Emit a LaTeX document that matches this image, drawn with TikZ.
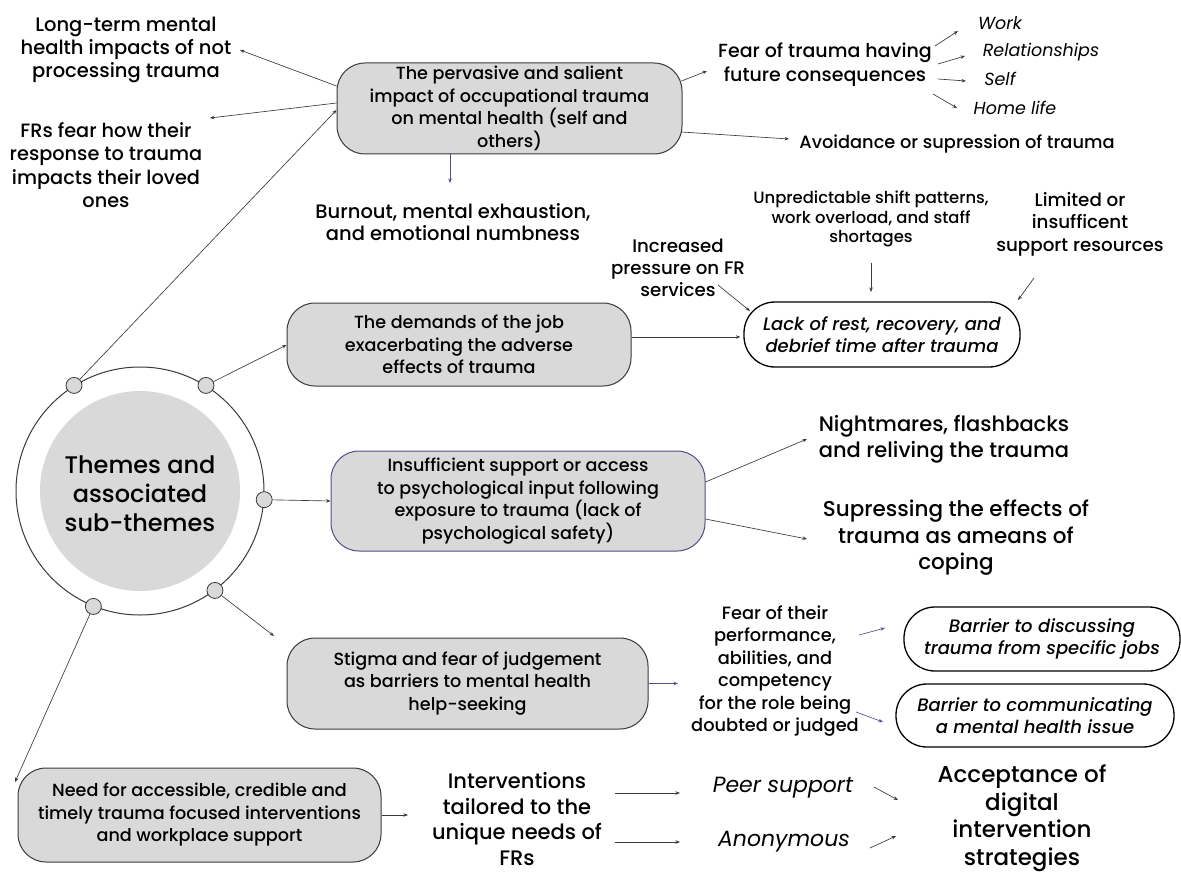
\documentclass[tikz,border=0pt]{standalone}
\usepackage{fontspec}
\setmainfont{Poppins}[BoldFont={* Medium}, ItalicFont={* Italic}, BoldItalicFont={* Medium Italic}]
\usetikzlibrary{arrows.meta}
\definecolor{boxgray}{HTML}{D9D9D9}
\definecolor{edge}{HTML}{3A3A3A}
\definecolor{purp}{HTML}{5B4A8A}
\newcommand{\fs}[2]{\fontsize{#1}{#2}\selectfont}
\begin{document}
\begin{tikzpicture}[x=1pt,y=-1pt,
  themebox/.style={draw=edge, fill=boxgray, rounded corners=28pt, line width=1pt, align=center, inner sep=0pt, font=\bfseries\fs{17.6}{22.5}},
  pill/.style={draw=black, line width=1.3pt, rounded corners=31pt, align=center, inner sep=0pt, font=\bfseries\itshape\fs{18}{22}},
  txt/.style={align=center, inner sep=0pt},
  arr/.style={-{Stealth[length=4.5pt,width=3.5pt]}, line width=0.65pt, draw=edge},
  arrp/.style={arr, draw=purp},
  dot/.style={circle, draw=edge, fill=boxgray, minimum size=16pt, inner sep=0pt, line width=0.8pt}
]
\path[use as bounding box, fill=white] (0,0) rectangle (1181,872);

% central circle
\node[circle, draw=edge, line width=1pt, minimum size=248pt, inner sep=0pt] (ring) at (140,491) {};
\node[circle, fill=boxgray, minimum size=200pt, inner sep=0pt] (core) at (140,491) {};
\node[txt, font=\bfseries\fs{24}{29}] (themes) at (140,494) {Themes and\\associated\\sub-themes};
\node[dot] (ctl) at (ring.122) {};
\node[dot] (ctr) at (ring.58) {};
\node[dot] (cr) at (ring.-4) {};
\node[dot] (cbr) at (ring.-53) {};
\node[dot] (cbl) at (ring.-112) {};

% theme boxes
\node[themebox, minimum width=345pt, minimum height=91pt] (b1) at (509.5,108.5) {The pervasive and salient\\impact of occupational trauma\\on mental health (self and\\others)};
\node[themebox, minimum width=344pt, minimum height=83pt] (b2) at (459,344.5) {The demands of the job\\exacerbating the adverse\\effects of trauma};
\node[themebox, draw=purp, minimum width=374pt, minimum height=100pt] (b3) at (518,501) {Insufficient support or access\\to psychological input following\\exposure to trauma (lack of\\psychological safety)};
\node[themebox, minimum width=361pt, minimum height=91pt] (b4) at (467.5,683.5) {Stigma and fear of judgement\\as barriers to mental health\\help-seeking};
\node[themebox, minimum width=363pt, minimum height=94pt] (b5) at (199.5,815) {Need for accessible, credible and\\timely trauma focused interventions\\and workplace support};

% pills
\node[pill, minimum width=276pt, minimum height=65pt] (lack) at (882,334.5) {Lack of rest, recovery, and\\debrief time after trauma};
\node[pill, minimum width=276pt, minimum height=64pt] (bar1) at (1042,639) {Barrier to discussing\\trauma from specific jobs};
\node[pill, minimum width=278pt, minimum height=63pt] (bar2) at (1035,715.5) {Barrier to communicating\\a mental health issue};

% text nodes
\node[txt, font=\bfseries\fs{19.5}{23}] (longterm) at (126,50) {Long-term mental\\health impacts of not\\processing trauma};
\node[txt, font=\bfseries\fs{19.3}{23.3}] (frsfear) at (106,165) {FRs fear how their\\response to trauma\\impacts their loved\\ones};
\node[txt, font=\bfseries\fs{19.5}{22.5}] (burnout) at (453,222) {Burnout, mental exhaustion,\\and emotional numbness};
\node[txt, font=\bfseries\fs{19}{24}] (fearfut) at (825,65) {Fear of trauma having\\future consequences};
\node[txt, font=\itshape\fs{17.5}{20}] (work) at (1000,23) {Work};
\node[txt, font=\itshape\fs{17.5}{20}] (rel) at (1041,52) {Relationships};
\node[txt, font=\itshape\fs{17.5}{20}] (self) at (1000,79) {Self};
\node[txt, font=\itshape\fs{17.5}{20}] (home) at (1015,108) {Home life};
\node[txt, font=\bfseries\fs{17.8}{22}] (avoid) at (957,144) {Avoidance or supression of trauma};
\node[txt, font=\bfseries\fs{16.4}{19.5}] (unpred) at (871,219) {Unpredictable shift patterns,\\work overload, and staff\\shortages};
\node[txt, font=\bfseries\fs{18.3}{22.5}] (limited) at (1080,224) {Limited or\\insufficent\\support resources};
\node[txt, font=\bfseries\fs{18.2}{22}] (increased) at (678,268) {Increased\\pressure on FR\\services};
\node[txt, font=\bfseries\fs{21}{26}] (night) at (944,439) {Nightmares, flashbacks\\and reliving the trauma};
\node[txt, font=\bfseries\fs{21.5}{26.5}] (supp) at (956,538) {Supressing the effects of\\trauma as ameans of\\coping};
\node[txt, font=\bfseries\fs{17.8}{22.4}] (fearperf) at (775,671) {Fear of their\\performance,\\abilities, and\\competency\\for the role being\\doubted or judged};
\node[txt, font=\bfseries\fs{21}{25.5}] (interv) at (517,819) {Interventions\\tailored to the\\unique needs of\\FRs};
\node[txt, font=\itshape\fs{22}{24}] (peer) at (783,788) {Peer support};
\node[txt, font=\itshape\fs{22}{24}] (anon) at (784,842) {Anonymous};
\node[txt, font=\bfseries\fs{23}{27.5}] (accept) at (1022,818) {Acceptance of\\digital\\intervention\\strategies};

% free ends
\coordinate (eLong) at (240,50);
\coordinate (eFrs) at (210,118);
\coordinate (eBurn) at (450,183);
\coordinate (eFut) at (707,71);
\coordinate (sWork) at (935,46);   \coordinate (eWork) at (958,31);
\coordinate (sRel) at (938,64);    \coordinate (eRel) at (965,56);
\coordinate (sSelf) at (938,79);   \coordinate (eSelf) at (966,81);
\coordinate (sHome) at (933,94);   \coordinate (eHome) at (957,108);
\coordinate (eAvoid) at (789,139);
\coordinate (sUnp) at (871,263);   \coordinate (eUnp) at (871,292);
\coordinate (sLim) at (1034,278);  \coordinate (eLim) at (1018,300);
\coordinate (sInc) at (718,285);   \coordinate (eInc) at (750,311);
\coordinate (eNight) at (807,439);
\coordinate (eSupp) at (807,539);
\coordinate (eStig) at (274,636);
\coordinate (eNeed) at (15,782);
\coordinate (eInt) at (408,815);
\coordinate (eFear) at (678,683.5);
\coordinate (sB1) at (859,635);    \coordinate (eB1) at (885,628);
\coordinate (sB2) at (856,712);    \coordinate (eB2) at (883,722);
\coordinate (sPeer) at (615,793);  \coordinate (ePeer) at (680,793);
\coordinate (sAnon) at (615,842);  \coordinate (eAnon) at (680,842);
\coordinate (sAcc1) at (874,787);  \coordinate (eAcc1) at (898,800);
\coordinate (sAcc2) at (870,848);  \coordinate (eAcc2) at (896,836);

% connectors
\draw[arr] ([shift={(0,-22.5)}]b1.west) -- (eLong);
\draw[arr] ([shift={(0,-5.5)}]b1.west) -- (eFrs);
\draw[arr] (ctl) -- ([shift={(0,1.5)}]b1.west);
\draw[arrp] ([shift={(-59.5,0)}]b1.south) -- (eBurn);
\draw[arr] ([shift={(-1,-27.5)}]b1.east) -- (eFut);
\draw[arr] (sWork) -- (eWork);
\draw[arr] (sRel) -- (eRel);
\draw[arr] (sSelf) -- (eSelf);
\draw[arr] (sHome) -- (eHome);
\draw[arr] ([shift={(-1,23.5)}]b1.east) -- (eAvoid);
\draw[arr] (sUnp) -- (eUnp);
\draw[arr] (sLim) -- (eLim);
\draw[arr] (sInc) -- (eInc);
\draw[arr] ([shift={(0,-7.5)}]b2.east) -- ([shift={(-3,2.5)}]lack.west);
\draw[arr] (ctr) -- ([shift={(0,0.5)}]b2.west);
\draw[arr] (cr) -- (b3.west);
\draw[arr] ([shift={(0,-19)}]b3.east) -- (eNight);
\draw[arr] ([shift={(0,18)}]b3.east) -- (eSupp);
\draw[arr] (cbr) -- (eStig);
\draw[arr] (cbl) -- (eNeed);
\draw[arr] (b5.east) -- (eInt);
\draw[arrp] (b4.east) -- (eFear);
\draw[arrp] (sB1) -- (eB1);
\draw[arrp] (sB2) -- (eB2);
\draw[arr] (sPeer) -- (ePeer);
\draw[arr] (sAnon) -- (eAnon);
\draw[arr] (sAcc1) -- (eAcc1);
\draw[arr] (sAcc2) -- (eAcc2);
\end{tikzpicture}
\end{document}
